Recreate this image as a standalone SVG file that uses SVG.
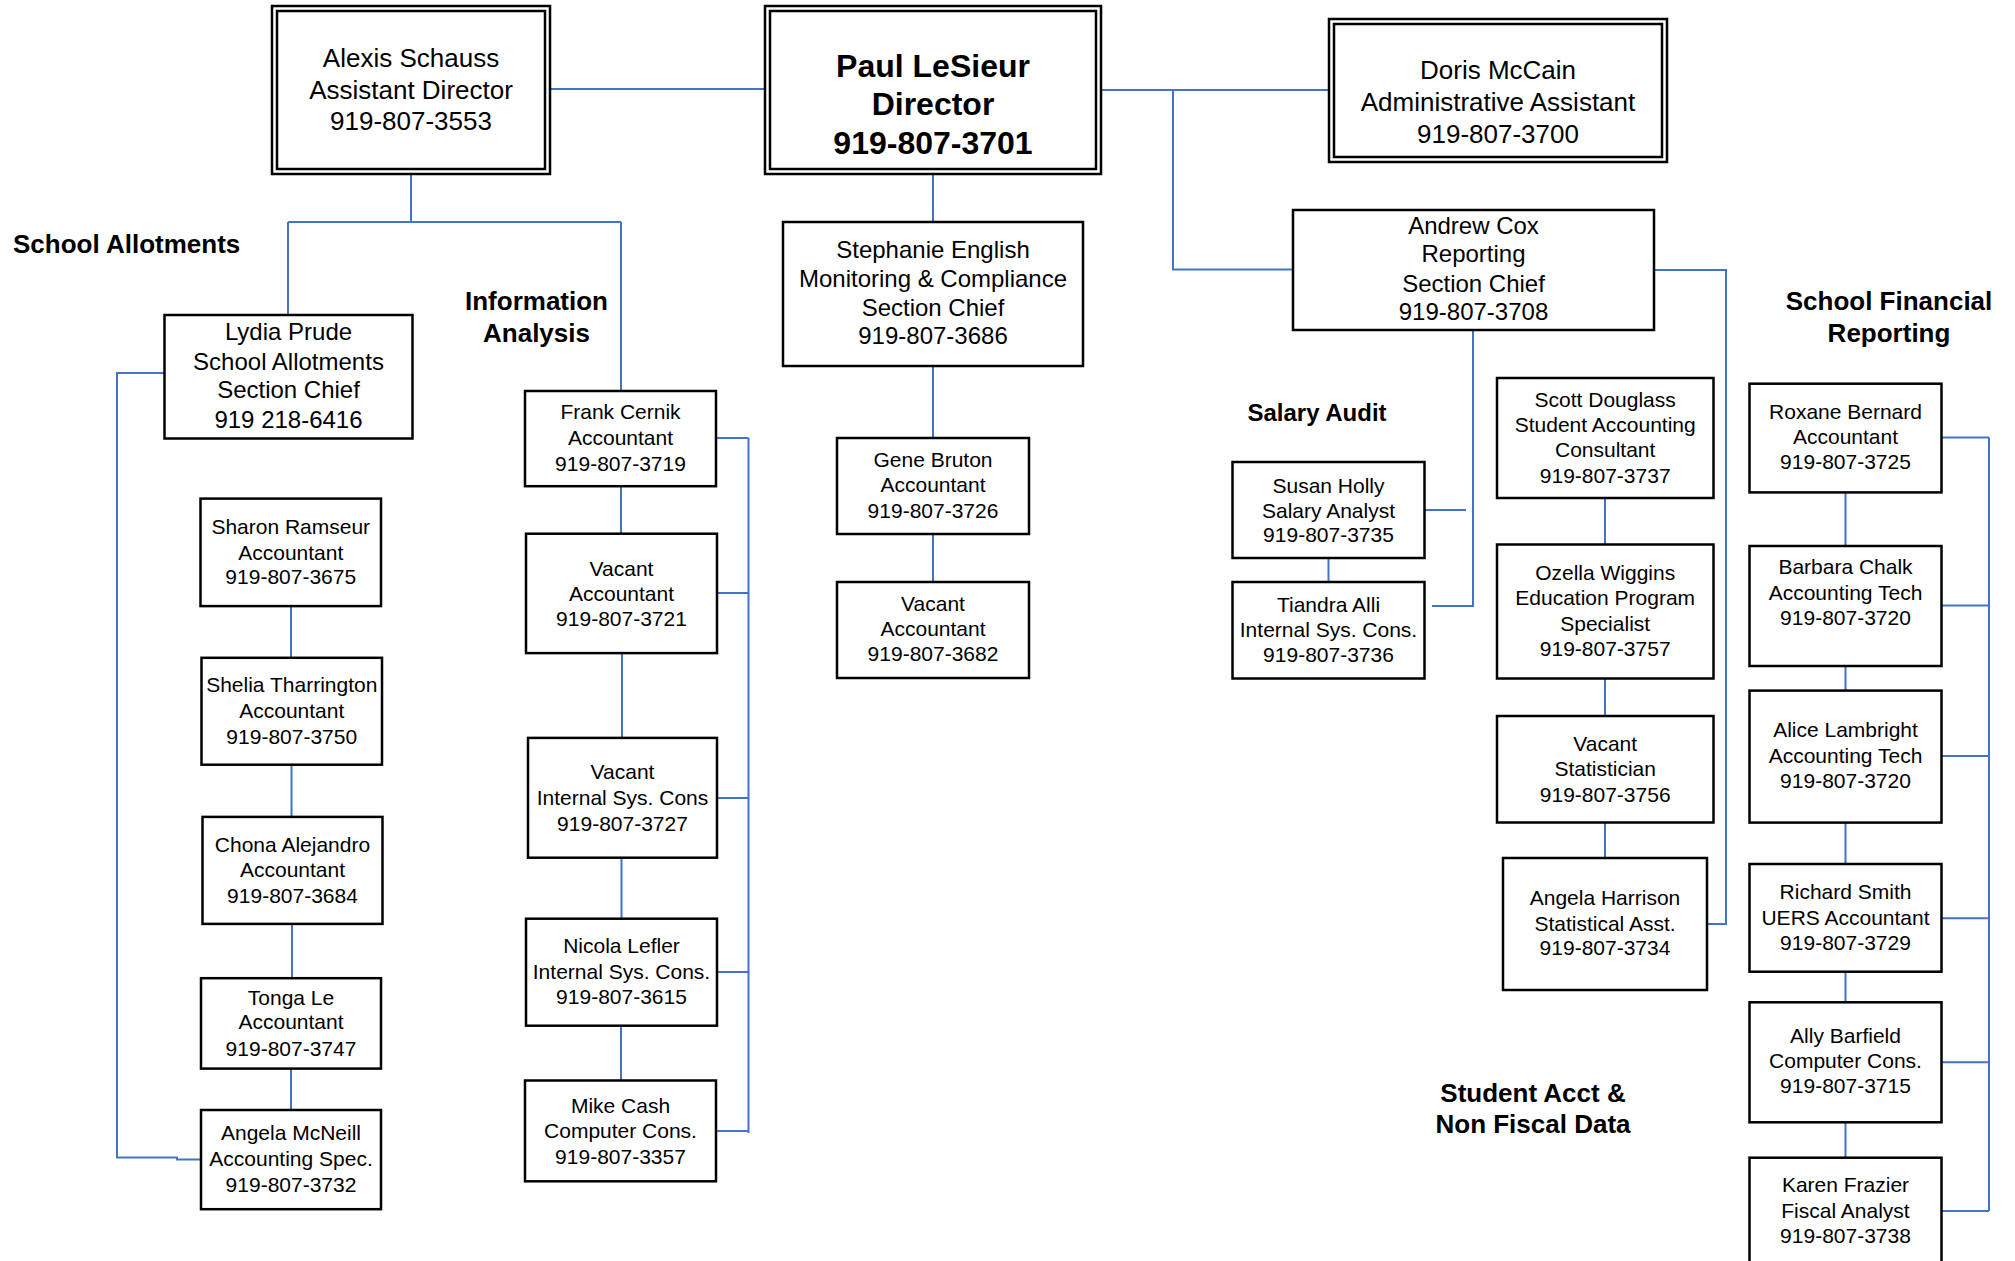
<svg xmlns="http://www.w3.org/2000/svg" width="2015" height="1261" viewBox="0 0 2015 1261">
<style>
.bg{fill:#fff}
.box{fill:#fff;stroke:#000;stroke-width:2.5}
.dbl{fill:none;stroke:#000;stroke-width:2.5}
.t{font-family:"Liberation Sans",Arial,sans-serif;text-anchor:middle;fill:#000}
.s21{font-size:21px}
.s24{font-size:24px}
.s26{font-size:26px}
.b32{font-size:32px;font-weight:bold}
.lbl{font-family:"Liberation Sans",Arial,sans-serif;font-weight:bold;font-size:26px;fill:#000;text-anchor:middle}
.c{fill:none;stroke:#4472c4;stroke-width:2}
</style>
<rect class="bg" x="0" y="0" width="2015" height="1261"/>

<g id="connectors">
<path class="c" d="M550,89 H765"/>
<path class="c" d="M1101,90 H1329"/>
<path class="c" d="M1173,90 V269.5 H1293"/>
<path class="c" d="M933,174 V222"/>
<path class="c" d="M411,174 V222 M288,222 H621 M288,222 V315 M621,222 V391"/>
<path class="c" d="M165,373 H117 V1157.5 H177 V1159.6 H201"/>
<path class="c" d="M291,606 V658 M291.5,764.5 V817 M292,924 V978 M291,1068.5 V1110"/>
<path class="c" d="M621,486 V534 M622,653 V738 M621.5,858 V919 M621,1026 V1080.5"/>
<path class="c" d="M748.5,438 V1133 M716,438 H748.5 M717,593 H748.5 M717,798 H748.5 M717,972 H748.5 M716,1131 H748.5"/>
<path class="c" d="M933,366 V438 M933,534 V582"/>
<path class="c" d="M1473,330 V606 H1432 M1425,510 H1466"/>
<path class="c" d="M1328.5,558 V582"/>
<path class="c" d="M1654,270 H1726 V924 H1707"/>
<path class="c" d="M1605,498 V544.5 M1605,678.5 V716 M1605,822.5 V858"/>
<path class="c" d="M1845.5,492.4 V546 M1845.5,666 V690.6 M1845.5,822.6 V864 M1845.5,971.7 V1002.3 M1845.5,1122.3 V1157.7"/>
<path class="c" d="M1989,437.6 V1211 M1941.5,437.6 H1989 M1941.5,605.6 H1989 M1941.5,756 H1989 M1941.5,918.3 H1989 M1941.5,1062.3 H1989 M1941.5,1211 H1989"/>
</g>

<g id="alexis">
<rect class="box" x="272" y="6" width="278" height="168"/>
<rect class="dbl" x="277" y="11" width="268" height="158"/>
<text class="t s26" x="411" y="66.5">Alexis Schauss</text>
<text class="t s26" x="411" y="98.5">Assistant Director</text>
<text class="t s26" x="411" y="130">919-807-3553</text>
</g>
<g id="paul">
<rect class="box" x="765" y="6" width="336" height="168"/>
<rect class="dbl" x="770" y="11" width="326" height="158"/>
<text class="t b32" x="933" y="77">Paul LeSieur</text>
<text class="t b32" x="933" y="115">Director</text>
<text class="t b32" x="933" y="154">919-807-3701</text>
</g>
<g id="doris">
<rect class="box" x="1329" y="19" width="338" height="143"/>
<rect class="dbl" x="1334" y="24" width="328" height="133"/>
<text class="t s26" x="1498" y="79">Doris McCain</text>
<text class="t s26" x="1498" y="111">Administrative Assistant</text>
<text class="t s26" x="1498" y="143">919-807-3700</text>
</g>

<g id="label-school-allotments"><text class="lbl" x="13" y="253" style="text-anchor:start">School Allotments</text></g>
<g id="label-information-analysis">
<text class="lbl" x="536.5" y="309.5">Information</text>
<text class="lbl" x="536.5" y="342">Analysis</text>
</g>
<g id="label-salary-audit"><text class="lbl" x="1317" y="421" style="font-size:24px">Salary Audit</text></g>
<g id="label-school-financial">
<text class="lbl" x="1889" y="309.5">School Financial</text>
<text class="lbl" x="1889" y="342">Reporting</text>
</g>
<g id="label-student-acct">
<text class="lbl" x="1533" y="1101.7">Student Acct &amp;</text>
<text class="lbl" x="1533" y="1133.3">Non Fiscal Data</text>
</g>

<g id="lydia">
<rect class="box" x="164.5" y="315" width="248" height="123.5"/>
<text class="t s24" x="288.5" y="340.2">Lydia Prude</text>
<text class="t s24" x="288.5" y="369.7">School Allotments</text>
<text class="t s24" x="288.5" y="398">Section Chief</text>
<text class="t s24" x="288.5" y="427.5">919 218-6416</text>
</g>
<g id="stephanie">
<rect class="box" x="783" y="222" width="300" height="144"/>
<text class="t s24" x="933" y="258">Stephanie English</text>
<text class="t s24" x="933" y="287">Monitoring &amp; Compliance</text>
<text class="t s24" x="933" y="315.5">Section Chief</text>
<text class="t s24" x="933" y="344">919-807-3686</text>
</g>
<g id="andrew">
<rect class="box" x="1293" y="210" width="361" height="120"/>
<text class="t s24" x="1473.5" y="233.5">Andrew Cox</text>
<text class="t s24" x="1473.5" y="262">Reporting</text>
<text class="t s24" x="1473.5" y="291.5">Section Chief</text>
<text class="t s24" x="1473.5" y="320">919-807-3708</text>
</g>

<g id="sharon">
<rect class="box" x="200.5" y="498.6" width="180.5" height="107.5"/>
<text class="t s21" x="290.75" y="533.7">Sharon Ramseur</text>
<text class="t s21" x="290.75" y="559.6">Accountant</text>
<text class="t s21" x="290.75" y="584.4">919-807-3675</text>
</g>
<g id="shelia">
<rect class="box" x="201.5" y="657.8" width="180.5" height="106.9"/>
<text class="t s21" x="291.75" y="691.9">Shelia Tharrington</text>
<text class="t s21" x="291.75" y="717.7">Accountant</text>
<text class="t s21" x="291.75" y="743.5">919-807-3750</text>
</g>
<g id="chona">
<rect class="box" x="202.5" y="816.9" width="180" height="107"/>
<text class="t s21" x="292.5" y="851.6">Chona Alejandro</text>
<text class="t s21" x="292.5" y="876.9">Accountant</text>
<text class="t s21" x="292.5" y="902.7">919-807-3684</text>
</g>
<g id="tonga">
<rect class="box" x="201" y="978.2" width="180" height="90.4"/>
<text class="t s21" x="291" y="1004.5">Tonga Le</text>
<text class="t s21" x="291" y="1029.3">Accountant</text>
<text class="t s21" x="291" y="1055.7">919-807-3747</text>
</g>
<g id="angela-mcneill">
<rect class="box" x="201" y="1110" width="180" height="99.2"/>
<text class="t s21" x="291" y="1140.4">Angela McNeill</text>
<text class="t s21" x="291" y="1166.3">Accounting Spec.</text>
<text class="t s21" x="291" y="1191.6">919-807-3732</text>
</g>

<g id="frank">
<rect class="box" x="525" y="391" width="191" height="95.2"/>
<text class="t s21" x="620.5" y="418.7">Frank Cernik</text>
<text class="t s21" x="620.5" y="444.5">Accountant</text>
<text class="t s21" x="620.5" y="470.7">919-807-3719</text>
</g>
<g id="vacant-3721">
<rect class="box" x="526" y="533.7" width="191" height="119.4"/>
<text class="t s21" x="621.5" y="575.6">Vacant</text>
<text class="t s21" x="621.5" y="600.9">Accountant</text>
<text class="t s21" x="621.5" y="626.2">919-807-3721</text>
</g>
<g id="vacant-3727">
<rect class="box" x="528" y="737.9" width="189" height="119.8"/>
<text class="t s21" x="622.5" y="779.2">Vacant</text>
<text class="t s21" x="622.5" y="805">Internal Sys. Cons</text>
<text class="t s21" x="622.5" y="830.9">919-807-3727</text>
</g>
<g id="nicola">
<rect class="box" x="526" y="918.7" width="191" height="107"/>
<text class="t s21" x="621.5" y="952.8">Nicola Lefler</text>
<text class="t s21" x="621.5" y="978.7">Internal Sys. Cons.</text>
<text class="t s21" x="621.5" y="1004">919-807-3615</text>
</g>
<g id="mike">
<rect class="box" x="525" y="1080.5" width="191" height="100.8"/>
<text class="t s21" x="620.5" y="1112.5">Mike Cash</text>
<text class="t s21" x="620.5" y="1137.9">Computer Cons.</text>
<text class="t s21" x="620.5" y="1163.7">919-807-3357</text>
</g>

<g id="gene">
<rect class="box" x="837" y="438" width="192" height="96"/>
<text class="t s21" x="933" y="466.5">Gene Bruton</text>
<text class="t s21" x="933" y="492">Accountant</text>
<text class="t s21" x="933" y="517.5">919-807-3726</text>
</g>
<g id="vacant-3682">
<rect class="box" x="837" y="582" width="192" height="96"/>
<text class="t s21" x="933" y="610.5">Vacant</text>
<text class="t s21" x="933" y="636">Accountant</text>
<text class="t s21" x="933" y="661">919-807-3682</text>
</g>

<g id="susan">
<rect class="box" x="1232.5" y="462" width="192" height="96"/>
<text class="t s21" x="1328.5" y="492.5">Susan Holly</text>
<text class="t s21" x="1328.5" y="517.5">Salary Analyst</text>
<text class="t s21" x="1328.5" y="542">919-807-3735</text>
</g>
<g id="tiandra">
<rect class="box" x="1232.5" y="582" width="192" height="96.5"/>
<text class="t s21" x="1328.5" y="612">Tiandra Alli</text>
<text class="t s21" x="1328.5" y="637">Internal Sys. Cons.</text>
<text class="t s21" x="1328.5" y="662">919-807-3736</text>
</g>

<g id="scott">
<rect class="box" x="1497" y="378" width="216.5" height="120"/>
<text class="t s21" x="1605.2" y="406.5">Scott Douglass</text>
<text class="t s21" x="1605.2" y="432">Student Accounting</text>
<text class="t s21" x="1605.2" y="457">Consultant</text>
<text class="t s21" x="1605.2" y="482.7">919-807-3737</text>
</g>
<g id="ozella">
<rect class="box" x="1497" y="544.5" width="216.5" height="134"/>
<text class="t s21" x="1605.2" y="579.6">Ozella Wiggins</text>
<text class="t s21" x="1605.2" y="605.3">Education Program</text>
<text class="t s21" x="1605.2" y="630.5">Specialist</text>
<text class="t s21" x="1605.2" y="656.2">919-807-3757</text>
</g>
<g id="vacant-3756">
<rect class="box" x="1497" y="716" width="216.5" height="106.5"/>
<text class="t s21" x="1605.2" y="750.7">Vacant</text>
<text class="t s21" x="1605.2" y="776">Statistician</text>
<text class="t s21" x="1605.2" y="801.6">919-807-3756</text>
</g>
<g id="angela-harrison">
<rect class="box" x="1503" y="858" width="204" height="132"/>
<text class="t s21" x="1605" y="905">Angela Harrison</text>
<text class="t s21" x="1605" y="930.7">Statistical Asst.</text>
<text class="t s21" x="1605" y="955">919-807-3734</text>
</g>

<g id="roxane">
<rect class="box" x="1749.5" y="383.7" width="192" height="108.7"/>
<text class="t s21" x="1845.5" y="419">Roxane Bernard</text>
<text class="t s21" x="1845.5" y="444">Accountant</text>
<text class="t s21" x="1845.5" y="469.4">919-807-3725</text>
</g>
<g id="barbara">
<rect class="box" x="1749.5" y="546" width="192" height="120"/>
<text class="t s21" x="1845.5" y="574">Barbara Chalk</text>
<text class="t s21" x="1845.5" y="599.5">Accounting Tech</text>
<text class="t s21" x="1845.5" y="625">919-807-3720</text>
</g>
<g id="alice">
<rect class="box" x="1749.5" y="690.6" width="192" height="132"/>
<text class="t s21" x="1845.5" y="737.3">Alice Lambright</text>
<text class="t s21" x="1845.5" y="763.3">Accounting Tech</text>
<text class="t s21" x="1845.5" y="788.2">919-807-3720</text>
</g>
<g id="richard">
<rect class="box" x="1749.5" y="864" width="192" height="107.7"/>
<text class="t s21" x="1845.5" y="899.2">Richard Smith</text>
<text class="t s21" x="1845.5" y="925">UERS Accountant</text>
<text class="t s21" x="1845.5" y="950">919-807-3729</text>
</g>
<g id="ally">
<rect class="box" x="1749.5" y="1002.3" width="192" height="120"/>
<text class="t s21" x="1845.5" y="1042.7">Ally Barfield</text>
<text class="t s21" x="1845.5" y="1068.3">Computer Cons.</text>
<text class="t s21" x="1845.5" y="1093.3">919-807-3715</text>
</g>
<g id="karen">
<rect class="box" x="1749.5" y="1157.7" width="192" height="115"/>
<text class="t s21" x="1845.5" y="1192.3">Karen Frazier</text>
<text class="t s21" x="1845.5" y="1218.3">Fiscal Analyst</text>
<text class="t s21" x="1845.5" y="1243.3">919-807-3738</text>
</g>
</svg>
